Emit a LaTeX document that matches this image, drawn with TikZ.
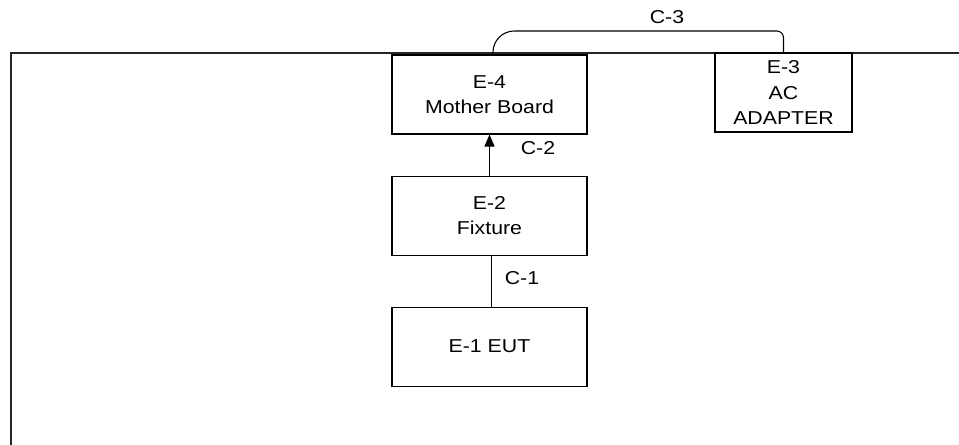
\documentclass[tikz,border=0pt]{standalone}
\usepackage{fontspec}
\setmainfont{Liberation Sans}[FakeStretch=1.14]
\usetikzlibrary{arrows.meta, positioning}

\begin{document}
\begin{tikzpicture}[x=0.75pt, y=-0.75pt, font=\fontsize{14}{19}\selectfont,
  unit/.style={draw, line width=0.8pt, minimum width=146.25pt, minimum height=59.25pt,
    align=center, inner sep=0pt},
  cable/.style={line width=0.8pt}]
\useasboundingbox (0,0) rectangle (959,445);
% outer frame
\draw[line width=1.4pt, black!85] (959,53) -- (11,53) -- (11,445);
% units
\node[unit] (mb) at (489.5,94.5) {E-4\\Mother Board};
\node[unit, minimum width=102.75pt] (ac) at (783.5,92.5) {E-3\\AC\\ADAPTER};
\node[unit, below=30.75pt of mb] (fx) {E-2\\Fixture};
\node[unit, below=38.25pt of fx] (eut) {E-1 EUT};
% cables
\coordinate (c3top) at (640,31);
\draw[cable, rounded corners=16pt] ([xshift=2.6pt]mb.north) |- (c3top)
  [rounded corners=5pt] -| (ac.north);
\draw[cable, -{Triangle[length=9pt, width=7.5pt]}] (fx) -- (mb);
\draw[cable] ([xshift=1.5pt]eut.north) -- ([xshift=1.5pt]fx.south);
\node (c3) at (667,17) {C-3};
\node (c2) at (538,148) {C-2};
\node (c1) at (522,278) {C-1};
\end{tikzpicture}
\end{document}
